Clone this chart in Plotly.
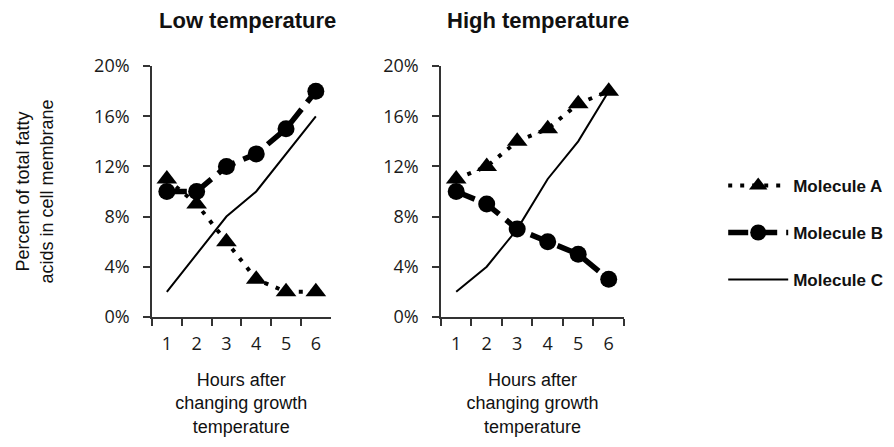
import plotly.graph_objects as go

hours = ["1", "2", "3", "4", "5", "6"]
tick_pct = [0, 4, 8, 12, 16, 20]
tick_text = ["0%", "4%", "8%", "12%", "16%", "20%"]

low_a = [11, 9, 6, 3, 2, 2]
low_b = [10, 10, 12, 13, 15, 18]
low_c = [2, 5, 8, 10, 13, 16]

high_a = [11, 12, 14, 15, 17, 18]
high_b = [10, 9, 7, 6, 5, 3]
high_c = [2, 4, 7, 11, 14, 18]

names = ["Molecule A", "Molecule B", "Molecule C"]

styles = [
    dict(mode="lines+markers", line=dict(color="black", width=4, dash="4px,8px"),
         marker=dict(symbol="triangle-up", size=18, color="black")),
    dict(mode="lines+markers", line=dict(color="black", width=5.5, dash="20px,9px"),
         marker=dict(symbol="circle", size=17, color="black")),
    dict(mode="lines", line=dict(color="black", width=2)),
]

fig = go.Figure()
for i, (ys_low, ys_high) in enumerate([(low_a, high_a), (low_b, high_b), (low_c, high_c)]):
    fig.add_trace(go.Scatter(x=hours, y=ys_low, name=names[i], xaxis="x", yaxis="y",
                             legendgroup=names[i], showlegend=True, **styles[i]))
    fig.add_trace(go.Scatter(x=hours, y=ys_high, name=names[i], xaxis="x2", yaxis="y2",
                             legendgroup=names[i], showlegend=False, **styles[i]))

tick_font = dict(family="Open Sans, Noto Sans, sans-serif", size=18, color="#1a1a1a")
title_font = dict(family="Liberation Sans, Arial, sans-serif", size=18, color="#111")

xcommon = dict(type="category", tickson="boundaries", ticks="outside", ticklen=7,
               tickwidth=1.5, tickcolor="#333", showline=True, linecolor="#333", linewidth=1.5,
               showgrid=False, zeroline=False, tickfont=tick_font, range=[-0.5, 5.5],
               automargin=False, ticklabelstandoff=10,
               title=dict(text="Hours after<br>changing growth<br>temperature", font=title_font,
                          standoff=19))
ycommon = dict(range=[0, 20], tickvals=tick_pct, ticktext=tick_text, ticks="outside",
               ticklen=7, tickwidth=1.5, tickcolor="#333", showline=True, linecolor="#333",
               linewidth=1.5, showgrid=False, zeroline=False, tickfont=tick_font,
               automargin=False, ticklabelstandoff=10)

title_cfg = dict(xref="paper", yref="paper", showarrow=False, xanchor="center",
                 yanchor="middle",
                 font=dict(family="Liberation Sans, Arial, sans-serif", size=22, color="#111"))

fig.update_layout(
    width=894, height=447,
    margin=dict(l=0, r=0, t=0, b=0),
    plot_bgcolor="white", paper_bgcolor="white",
    xaxis=dict(domain=[0.161, 0.361], anchor="y", **xcommon),
    xaxis2=dict(domain=[0.4843, 0.689], anchor="y2", **xcommon),
    yaxis=dict(domain=[0.309, 0.870], anchor="x",
               title=dict(text="Percent of total fatty<br>acids in cell membrane",
                          font=title_font, standoff=36), **ycommon),
    yaxis2=dict(domain=[0.309, 0.870], anchor="x2", **ycommon),
    legend=dict(x=0.800, y=0.497, xanchor="left", yanchor="middle",
                font=dict(family="Liberation Sans, Arial, sans-serif", size=17, color="#111",
                          weight="bold"),
                itemwidth=60, tracegroupgap=22, bgcolor="rgba(0,0,0,0)"),
    annotations=[
        dict(text="<b>Low temperature</b>", x=0.268, y=0.971, **title_cfg),
        dict(text="<b>High temperature</b>", x=0.593, y=0.971, **title_cfg),
    ],
)

fig.write_html("out.html")
